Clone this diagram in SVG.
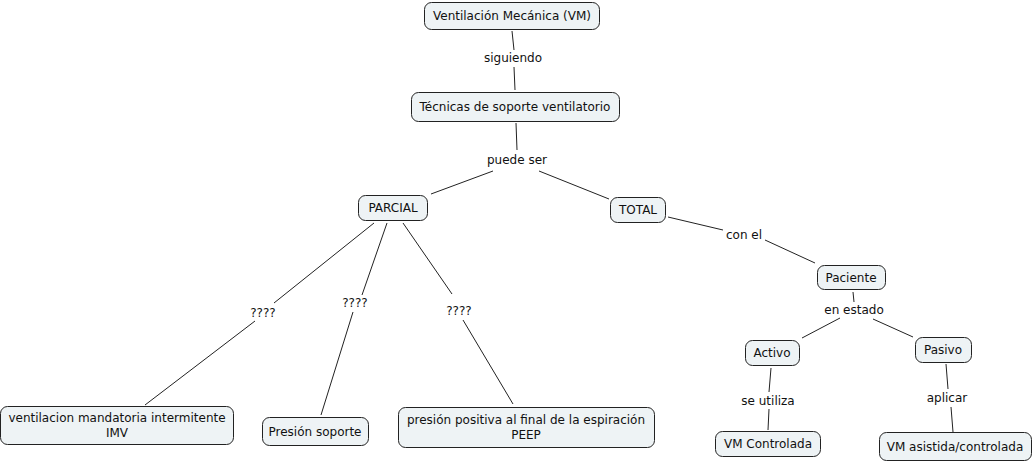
<svg xmlns="http://www.w3.org/2000/svg" width="1035" height="463" viewBox="0 0 1035 463">
<style>
.n rect{fill:#eef3f5;stroke:#222;stroke-width:1}
text{font-family:"DejaVu Sans",Verdana,sans-serif;font-size:12px;fill:#111;text-anchor:middle}
.c line{stroke:#222;stroke-width:1}
</style>
<rect width="1035" height="463" fill="#fff"/>
<g class="c">
<line x1="512" y1="31" x2="514" y2="50"/>
<line x1="514" y1="67" x2="515" y2="90"/>
<line x1="516" y1="123" x2="517" y2="150"/>
<line x1="493" y1="171" x2="431" y2="194"/>
<line x1="539" y1="171" x2="609" y2="199"/>
<line x1="668" y1="217" x2="723" y2="230"/>
<line x1="765" y1="240" x2="815" y2="263"/>
<line x1="853" y1="292" x2="854" y2="302"/>
<line x1="840" y1="318" x2="802" y2="338"/>
<line x1="873" y1="319" x2="913" y2="337"/>
<line x1="771" y1="368" x2="769" y2="392"/>
<line x1="769" y1="409" x2="768" y2="430"/>
<line x1="946" y1="364" x2="948" y2="389"/>
<line x1="951" y1="407" x2="953" y2="432"/>
<line x1="374" y1="223" x2="274" y2="303"/>
<line x1="255" y1="321" x2="145" y2="405"/>
<line x1="387" y1="223" x2="362" y2="295"/>
<line x1="353" y1="312" x2="321" y2="415"/>
<line x1="403" y1="223" x2="452" y2="294"/>
<line x1="463" y1="320" x2="513" y2="404"/>
</g>
<g id="labels">
<text x="513" y="62">siguiendo</text>
<text x="517" y="164">puede ser</text>
<text x="263" y="317">????</text>
<text x="355" y="307">????</text>
<text x="459" y="315">????</text>
<text x="744" y="239">con el</text>
<text x="854" y="314">en estado</text>
<text x="768" y="405">se utiliza</text>
<text x="947" y="402">aplicar</text>
</g>
<g id="n1" class="n"><rect x="424.5" y="2.5" width="175" height="27" rx="7"/><text x="512" y="20">Ventilación Mecánica (VM)</text></g>
<g id="n2" class="n"><rect x="411.5" y="92.5" width="208" height="29" rx="7"/><text x="515" y="111">Técnicas de soporte ventilatorio</text></g>
<g id="n3" class="n"><rect x="358.5" y="195.5" width="69" height="25" rx="7"/><text x="393" y="212">PARCIAL</text></g>
<g id="n4" class="n"><rect x="610.5" y="197.5" width="55" height="25" rx="7"/><text x="638" y="214">TOTAL</text></g>
<g id="n5" class="n"><rect x="817.5" y="265.5" width="68" height="24" rx="7"/><text x="851" y="282">Paciente</text></g>
<g id="n6" class="n"><rect x="745.5" y="340.5" width="54" height="25" rx="7"/><text x="772" y="357">Activo</text></g>
<g id="n7" class="n"><rect x="915.5" y="337.5" width="56" height="25" rx="7"/><text x="943" y="354">Pasivo</text></g>
<g id="n8" class="n"><rect x="715.5" y="431.5" width="105" height="25" rx="7"/><text x="768" y="448">VM Controlada</text></g>
<g id="n9" class="n"><rect x="879.5" y="432.5" width="152" height="28" rx="7"/><text x="955" y="451">VM asistida/controlada</text></g>
<g id="n10" class="n"><rect x="0.5" y="406.5" width="233" height="38" rx="7"/><text x="117" y="422">ventilacion mandatoria intermitente</text><text x="117" y="437">IMV</text></g>
<g id="n11" class="n"><rect x="262.5" y="417.5" width="106" height="28" rx="7"/><text x="315" y="436">Presión soporte</text></g>
<g id="n12" class="n"><rect x="398.5" y="407.5" width="256" height="40" rx="7"/><text x="526" y="424">presión positiva al final de la espiración</text><text x="526" y="439">PEEP</text></g>
</svg>
